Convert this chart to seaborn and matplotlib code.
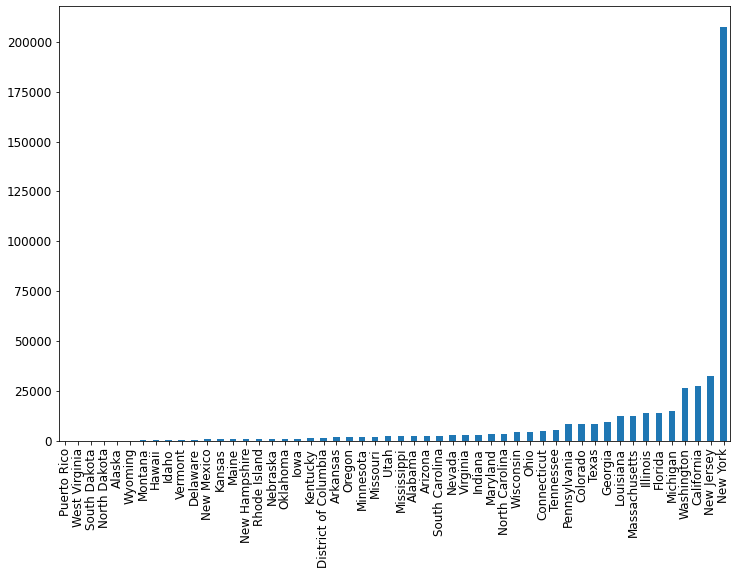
import numpy as np
import pandas as pd
import matplotlib
matplotlib.use("Agg")
import matplotlib.pyplot as plt
import seaborn as sns

states = [
    "Puerto Rico", "West Virginia", "South Dakota", "North Dakota", "Alaska",
    "Wyoming", "Montana", "Hawaii", "Idaho", "Vermont", "Delaware",
    "New Mexico", "Kansas", "Maine", "New Hampshire", "Rhode Island",
    "Nebraska", "Oklahoma", "Iowa", "Kentucky", "District of Columbia",
    "Arkansas", "Oregon", "Minnesota", "Missouri", "Utah", "Mississippi",
    "Alabama", "Arizona", "South Carolina", "Nevada", "Virginia", "Indiana",
    "Maryland", "North Carolina", "Wisconsin", "Ohio", "Connecticut",
    "Tennessee", "Pennsylvania", "Colorado", "Texas", "Georgia", "Louisiana",
    "Massachusetts", "Illinois", "Florida", "Michigan", "Washington",
    "California", "New Jersey", "New York",
]
counts = [
    60, 80, 100, 110, 120,
    150, 450, 480, 520, 560, 600,
    950, 980, 1000, 1020, 1050,
    1080, 1100, 1150, 1600, 1650,
    2000, 2050, 2100, 2150, 2500, 2550,
    2600, 2650, 2700, 3000, 3050, 3100,
    3500, 3550, 4500, 4550, 5000,
    5500, 8500, 8550, 8600, 9500, 12500,
    12600, 14000, 14100, 15000, 26500,
    27500, 32500, 207500,
]

df = pd.DataFrame({"state": states, "count": counts})

W, H = 736, 575
fig = plt.figure(figsize=(W / 72, H / 72), dpi=72)
ax = fig.add_axes([59 / W, (H - 441) / H, (730 - 59) / W, (441 - 6) / H])

sns.barplot(data=df, x="state", y="count", color="#1f77b4", saturation=1,
            width=0.5, ax=ax)

ax.set_xlim(-0.5, len(states) - 0.5)
ax.set_ylim(0, max(counts) * 1.05)
ax.set_xlabel("")
ax.set_ylabel("")
ax.tick_params(axis="both", labelsize=12)
ax.tick_params(axis="x", rotation=90)
for s in ax.spines.values():
    s.set_color("black")

fig.savefig("out.png", dpi=72)
plt.close()
